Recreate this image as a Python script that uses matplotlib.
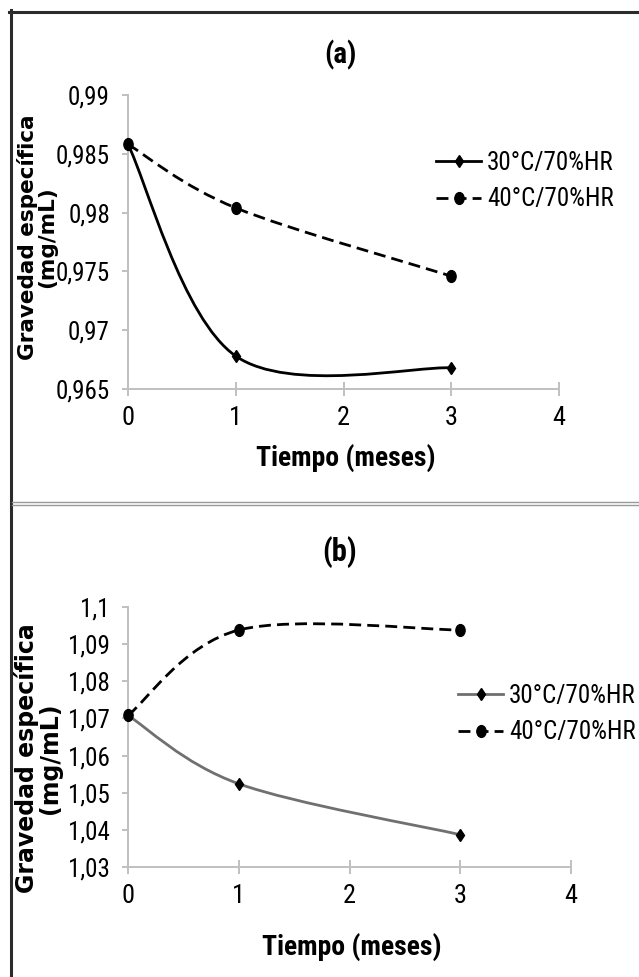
import matplotlib
matplotlib.use('Agg')
import matplotlib.pyplot as plt
from matplotlib import font_manager
from matplotlib.path import Path
from matplotlib.patches import PathPatch
from matplotlib.lines import Line2D
from matplotlib.transforms import Affine2D

# data
tiempo = [0, 1, 3]
a_30 = [0.9858, 0.9678, 0.9668]
a_40 = [0.9858, 0.9804, 0.9746]
b_30 = [1.0708, 1.0524, 1.0387]
b_40 = [1.0708, 1.0938, 1.0938]
series_labels = ['30°C/70%HR', '40°C/70%HR']
x_ticks = [0, 1, 2, 3, 4]
a_yticks = [0.965, 0.97, 0.975, 0.98, 0.985, 0.99]
a_ylabels = ['0,965', '0,97', '0,975', '0,98', '0,985', '0,99']
b_yticks = [1.03, 1.04, 1.05, 1.06, 1.07, 1.08, 1.09, 1.1]
b_ylabels = ['1,03', '1,04', '1,05', '1,06', '1,07', '1,08', '1,09', '1,1']

# narrow font like the original (arial narrow look)
fl = font_manager.fontManager.ttflist
weights = {}
for f in fl:
    weights.setdefault(f.name, set()).add(f.weight if isinstance(f.weight, int) else 400)
NARROW = 'Liberation Sans'
for n in ['Liberation Sans Narrow', 'Roboto Condensed', 'Archivo Narrow', 'Sofia Sans Condensed']:
    if n in weights:
        NARROW = n
        break
NARROW_B = NARROW
if max(weights.get(NARROW, {400})) < 600:
    for n in ['Roboto Condensed', 'Saira SemiCondensed', 'Liberation Sans']:
        if n in weights and max(weights[n]) >= 600:
            NARROW_B = n
            break
plt.rcParams['font.family'] = [NARROW, 'DejaVu Sans']

W, H = 639, 977
AXC = '#c0c0c0'
DASH = (0, (4.3, 2.2))
ell = Affine2D().scale(0.78, 1.0).transform_path(Path.unit_circle())

fig = plt.figure(figsize=(W / 100, H / 100), dpi=100)


def px_axes(l, t, r, b):
    return fig.add_axes([l / W, 1 - b / H, (r - l) / W, (b - t) / H])


def fig_line(xs, ys, **kw):
    fig.add_artist(Line2D([x / W for x in xs], [1 - y / H for y in ys],
                          transform=fig.transFigure, **kw))


def smooth_path(xs, ys):
    # excel-like smoothed line: cubic bezier through the points
    pts = list(zip(xs, ys))
    n = len(pts)
    verts = [pts[0]]
    codes = [Path.MOVETO]
    for i in range(n - 1):
        p0 = pts[max(i - 1, 0)]
        p1 = pts[i]
        p2 = pts[i + 1]
        p3 = pts[min(i + 2, n - 1)]
        c1 = (p1[0] + (p2[0] - p0[0]) / 6, p1[1] + (p2[1] - p0[1]) / 6)
        c2 = (p2[0] - (p3[0] - p1[0]) / 6, p2[1] - (p3[1] - p1[1]) / 6)
        verts += [c1, c2, p2]
        codes += [Path.CURVE4] * 3
    return Path(verts, codes)


def style(ax, yticks, ylabels):
    ax.set_xlim(0, 4)
    ax.set_ylim(yticks[0], yticks[-1])
    ax.set_xticks(x_ticks)
    ax.set_xticklabels([str(t) for t in x_ticks])
    ax.set_yticks(yticks)
    ax.set_yticklabels(ylabels)
    for s in ['top', 'right']:
        ax.spines[s].set_visible(False)
    for s in ['left', 'bottom']:
        ax.spines[s].set_color(AXC)
        ax.spines[s].set_linewidth(1.4)
    ax.tick_params(axis='x', direction='inout', length=10, width=1.4, color=AXC,
                   pad=7, labelsize=19)
    ax.tick_params(axis='y', direction='out', length=4, width=1.4, color=AXC,
                   pad=9, labelsize=18)


def draw(ax, y30, y40, c30):
    ax.add_patch(PathPatch(smooth_path(tiempo, y30), facecolor='none', edgecolor=c30,
                           lw=2, clip_on=False, zorder=2))
    ax.add_patch(PathPatch(smooth_path(tiempo, y40), facecolor='none', edgecolor='black',
                           lw=2, linestyle=DASH, clip_on=False, zorder=2))
    ax.plot(tiempo, y30, linestyle='none', marker='d', ms=6.2, color='black',
            clip_on=False, zorder=3)
    ax.plot(tiempo, y40, linestyle='none', marker=ell, ms=8.5, color='black',
            clip_on=False, zorder=3)


def legend(ax, c30, x, y):
    h30 = Line2D([], [], color=c30, lw=2, marker='d', ms=6.2, mfc='black', mec='black')
    h40 = Line2D([], [], color='black', lw=2, linestyle=DASH, marker=ell, ms=8.5)
    ax.legend([h30, h40], series_labels, loc='center left',
              bbox_to_anchor=(x / W, 1 - y / H), bbox_transform=fig.transFigure,
              frameon=False, fontsize=18, handlelength=1.8, handletextpad=0.25,
              labelspacing=0.5, borderpad=0, borderaxespad=0)


# panel (a)
ax_a = px_axes(128, 95, 559, 389)
style(ax_a, a_yticks, a_ylabels)
draw(ax_a, a_30, a_40, 'black')
legend(ax_a, 'black', 436, 181)
fig.text(340 / W, 1 - 55 / H, '(a)', ha='center', va='center', fontsize=21,
         fontweight='bold', family=NARROW_B)
fig.text(346 / W, 1 - 458 / H, 'Tiempo (meses)', ha='center', va='center',
         fontsize=20, fontweight='bold', family=NARROW_B)
fig.text(37 / W, 1 - 237 / H, 'Gravedad específica\n(mg/mL)', rotation=90, ha='center',
         va='center', fontsize=15.5, fontweight='bold', family='DejaVu Sans',
         linespacing=0.9, multialignment='center')

# panel (b)
ax_b = px_axes(128, 607, 571, 867)
style(ax_b, b_yticks, b_ylabels)
draw(ax_b, b_30, b_40, '#707070')
legend(ax_b, '#707070', 458, 714)
fig.text(340 / W, 1 - 552 / H, '(b)', ha='center', va='center', fontsize=22,
         fontweight='bold', family=NARROW_B)
fig.text(352 / W, 1 - 947 / H, 'Tiempo (meses)', ha='center', va='center',
         fontsize=20, fontweight='bold', family=NARROW_B)
fig.text(38 / W, 1 - 758 / H, 'Gravedad específica\n(mg/mL)', rotation=90, ha='center',
         va='center', fontsize=17, fontweight='bold', family='DejaVu Sans',
         linespacing=0.9, multialignment='center')

# frame and separator
fig_line([9, 639], [11.5, 11.5], color='#2b2b2b', lw=2.2)
fig_line([11, 11], [10, 977], color='#2b2b2b', lw=2.2)
fig_line([12, 639], [501.5, 501.5], color='#9a9a9a', lw=1)
fig_line([12, 639], [505, 505], color='#9a9a9a', lw=1)

fig.savefig('out.png', dpi=100)
